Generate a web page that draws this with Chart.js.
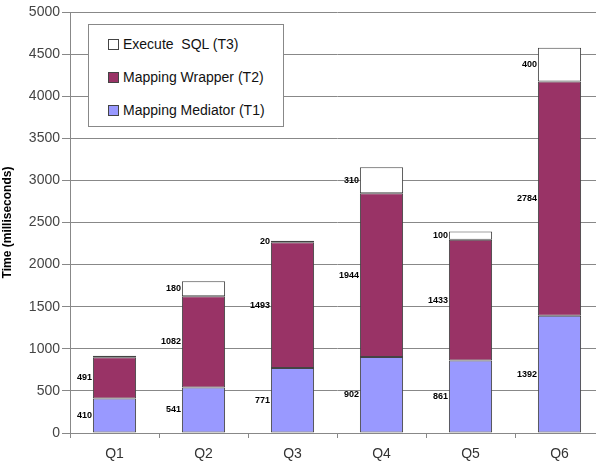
<!DOCTYPE html>
<html>
<head>
<meta charset="utf-8">
<script src="https://cdn.jsdelivr.net/npm/chart.js@4"></script>
<style>
  html, body { margin: 0; padding: 0; background: #fff; overflow: hidden; }
  #wrap { position: relative; width: 608px; height: 468px; }
  #legend {
    position: absolute; left: 88px; top: 24px; width: 194px; height: 101px;
    border: 1px solid #888; background: #fff;
    font: 14px "Liberation Sans", Arial, sans-serif; color: #111;
  }
  .item { position: absolute; left: 19px; height: 16px; line-height: 16px; white-space: pre; }
  .sw { display: inline-block; width: 9px; height: 9px; border: 1px solid #444; margin-right: 4px; vertical-align: -1px; }
</style>
</head>
<body>
<div id="wrap">
  <canvas id="chart" width="608" height="468"></canvas>
  <div id="legend"></div>
</div>
<script>
// Query time breakdown
const categories = ["Q1", "Q2", "Q3", "Q4", "Q5", "Q6"];
const mediatorT1 = [410, 541, 771, 902, 861, 1392];
const wrapperT2 = [491, 1082, 1493, 1944, 1433, 2784];
const sqlT3 = [15, 180, 20, 310, 100, 400];
const yTicks = [0, 500, 1000, 1500, 2000, 2500, 3000, 3500, 4000, 4500, 5000];

const seriesNames = ["Mapping Mediator (T1)", "Mapping Wrapper (T2)", "Execute  SQL (T3)"];
const seriesColors = ["#9999ff", "#993366", "#ffffff"];

// values drawn as numbers left of each segment (tiny Q1 T3 has no label)
const valueLabels = {
  id: "valueLabels",
  afterDatasetsDraw(chart) {
    const ctx = chart.ctx;
    ctx.save();
    ctx.font = "bold 9px 'Liberation Sans', Arial, sans-serif";
    ctx.fillStyle = "#000";
    ctx.textAlign = "right";
    ctx.textBaseline = "middle";
    chart.data.datasets.forEach((ds, i) => {
      chart.getDatasetMeta(i).data.forEach((bar, j) => {
        const v = ds.data[j];
        if (v < 20) return;
        const left = bar.x - bar.width / 2;
        ctx.fillText(String(v), left - 1, (bar.y + bar.base) / 2);
      });
    });
    ctx.restore();
  }
};

const datasets = [mediatorT1, wrapperT2, sqlT3].map((d, i) => ({
  label: seriesNames[i],
  data: d,
  backgroundColor: seriesColors[i],
  borderColor: "#444",
  borderWidth: 1,
  borderSkipped: false,
  categoryPercentage: 1,
  barPercentage: 0.485
}));

new Chart(document.getElementById("chart"), {
  type: "bar",
  data: { labels: categories, datasets },
  options: {
    responsive: false,
    animation: false,
    layout: { padding: { top: 12, right: 4, left: 0, bottom: 0 } },
    plugins: { legend: { display: false }, tooltip: { enabled: false } },
    scales: {
      x: {
        stacked: true,
        grid: { offset: true, drawOnChartArea: false, drawTicks: true, tickLength: 5, color: "#888" },
        border: { color: "#888" },
        ticks: { color: "#333", font: { size: 14, family: "'Liberation Sans', Arial" }, padding: 8 },
        afterFit(s) { s.height = 35; }
      },
      y: {
        stacked: true,
        min: 0,
        max: 5000,
        afterBuildTicks(s) { s.ticks = yTicks.map(v => ({ value: v })); },
        grid: { color: "#888", tickLength: 8 },
        border: { color: "#888" },
        ticks: {
          color: "#444",
          font: { size: 14, family: "'Liberation Sans', Arial" },
          padding: 2,
          callback: v => String(v)
        },
        title: {
          display: true,
          text: "Time (milliseconds)",
          color: "#000",
          font: { size: 12, weight: "bold", family: "'Liberation Sans', Arial" },
          padding: { top: 0, bottom: 4 }
        },
        afterFit(s) { s.width = 70; }
      }
    }
  },
  plugins: [valueLabels]
});

// legend box inside the plot, top series first
const legend = document.getElementById("legend");
[2, 1, 0].forEach((i, k) => {
  const el = document.createElement("div");
  el.className = "item";
  el.style.top = (11 + k * 33) + "px";
  el.innerHTML = '<span class="sw" style="background:' + seriesColors[i] + '"></span>' + seriesNames[i];
  legend.appendChild(el);
});
</script>
</body>
</html>
